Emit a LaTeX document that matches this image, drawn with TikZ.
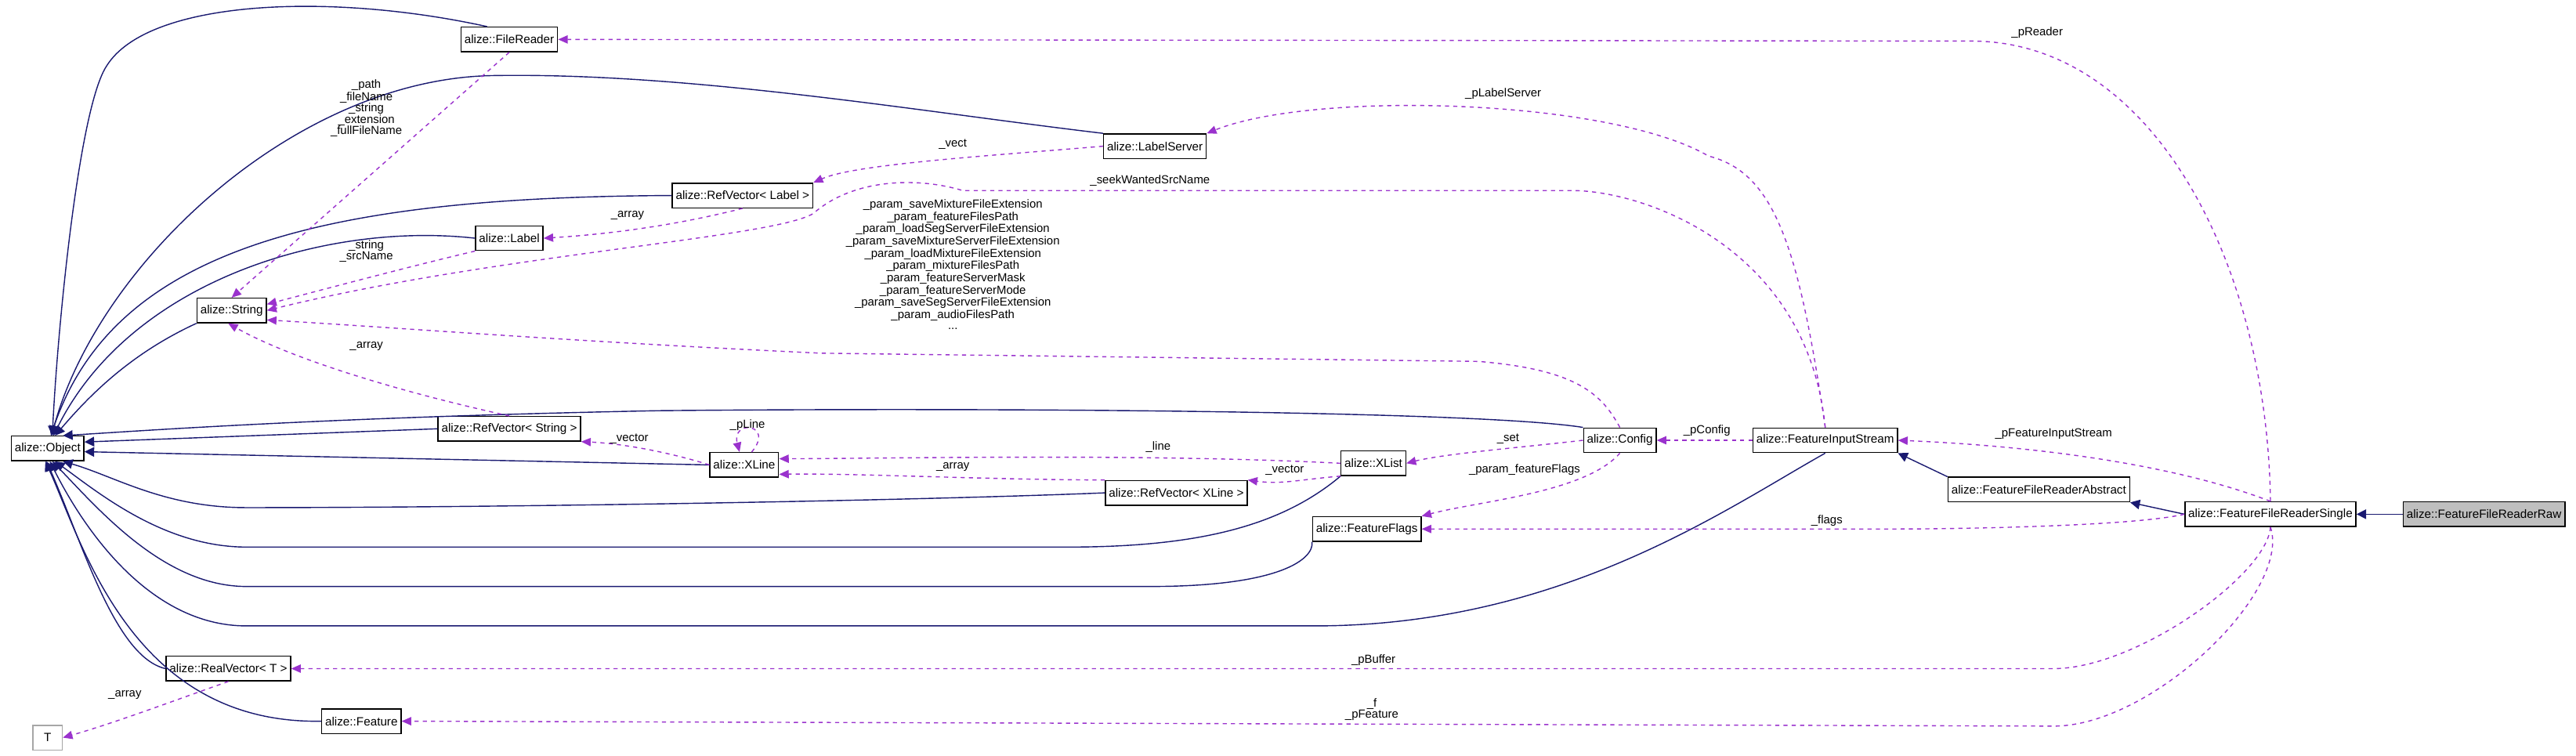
\documentclass[tikz,border=0pt]{standalone}
\usepackage{fontspec}
\setmainfont{Liberation Sans}
\usetikzlibrary{arrows.meta}
\definecolor{edgeblue}{HTML}{191970}
\definecolor{edgepurple}{HTML}{9A32CD}
\tikzset{
  cls/.style={draw=black, thick, fill=white, inner sep=2.5pt, minimum height=0.63cm, font=\fontsize{8.7}{9.8}\selectfont},
  inherit/.style={-{Triangle[length=7pt,width=7pt]}, edgeblue, thick},
  uses/.style={-{Triangle[length=7pt,width=6pt]}, edgepurple, thick, dashed},
  lbl/.style={font=\fontsize{8.5}{7.9}\selectfont, align=center, inner sep=0pt}
}
\begin{document}
\begin{tikzpicture}[x=0.042cm, y=-0.042cm]
				\useasboundingbox (0,0) rectangle (1568,460);

				% classes
				\node[cls] (obj) at (29,273) {alize::Object};
				\node[cls] (frd) at (310,24) {alize::FileReader};
				\node[cls] (lsv) at (703,89) {alize::LabelServer};
				\node[cls] (rvl) at (452,119) {alize::RefVector\textless{} Label \textgreater};
				\node[cls] (lab) at (310,145) {alize::Label};
				\node[cls] (str) at (141,189) {alize::String};
				\node[cls] (rvs) at (310,261) {alize::RefVector\textless{} String \textgreater};
				\node[cls] (xln) at (453,283) {alize::XLine};
				\node[cls] (xls) at (836,282) {alize::XList};
				\node[cls] (rvx) at (716,300) {alize::RefVector\textless{} XLine \textgreater};
				\node[cls] (cfg) at (986,268) {alize::Config};
				\node[cls] (fis) at (1111,268) {alize::FeatureInputStream};
				\node[cls] (ffl) at (832,322) {alize::FeatureFlags};
				\node[cls] (fra) at (1241,298) {alize::FeatureFileReaderAbstract};
				\node[cls] (frs) at (1382,313) {alize::FeatureFileReaderSingle};
				\node[cls, fill=black!25] (frr) at (1512,313) {alize::FeatureFileReaderRaw};
				\node[cls] (rvt) at (139,407) {alize::RealVector\textless{} T \textgreater};
				\node[cls] (fea) at (220,439) {alize::Feature};
				\node[cls, draw=black!35, minimum width=0.75cm] (tpl) at (29,449) {T};

				% inheritance
				\draw[inherit] (frd.150) .. controls (200,-5) and (90,0) .. (65,40) .. controls (48,65) and (35,200) .. (obj.70);
				\draw[inherit] (lsv.north west) .. controls (560,68) and (420,44) .. (300,46) .. controls (180,48) and (60,160) .. (obj.73);
				\draw[inherit] (rvl.west) .. controls (200,120) and (70,150) .. (obj.76);
				\draw[inherit] (lab.west) .. controls (200,135) and (80,170) .. (obj.66);
				\draw[inherit] (str.south west) .. controls (80,215) and (55,240) .. (obj.60);
				\draw[inherit] (cfg.north west) .. controls (900,250) and (600,248) .. (400,250) .. controls (200,254) and (90,262) .. (obj.40);
				\draw[inherit] (rvs.west) -- (obj.10);
				\draw[inherit] (xln.west) -- (obj.-5);
				\draw[inherit] (rvx.west) .. controls (550,305) and (300,309) .. (150,309) .. controls (100,309) and (70,290) .. (obj.-40);
				\draw[inherit] (xls.south west) .. controls (780,320) and (730,333) .. (650,333) -- (150,333) .. controls (100,333) and (60,300) .. (obj.-60);
				\draw[inherit] (ffl.south west) .. controls (800,340) and (780,357) .. (700,357) -- (150,357) .. controls (100,357) and (60,310) .. (obj.-70);
				\draw[inherit] (fis.south) .. controls (1050,310) and (950,381) .. (800,381) -- (150,381) .. controls (90,381) and (50,320) .. (obj.-80);
				\draw[inherit] (rvt.west) .. controls (70,400) and (50,330) .. (obj.-95);
				\draw[inherit] (fea.west) .. controls (80,441) and (50,330) .. (obj.-100);
				\draw[inherit] (fra.north west) -- (fis.south east);
				\draw[inherit] (frs.west) -- (fra.south east);
				\draw[inherit] (frr.west) -- (frs.east);

				% usage
				\draw[uses] (frs.north) .. controls (1380,160) and (1310,25) .. (1200,25) -- (frd.east);
				\node[lbl] (lPReader) at (1240,20) {\_pReader};
				\draw[uses] (fis.north) .. controls (1095,150) and (1080,105) .. (1040,95) .. controls (980,60) and (800,55) .. (lsv.north east);
				\node[lbl] (lPLabelServer) at (915,57) {\_pLabelServer};
				\draw[uses] (lsv.west) .. controls (600,95) and (520,100) .. (rvl.north east);
				\node[lbl] (lVect) at (580,88) {\_vect};
				\draw[uses] (rvl.south) .. controls (420,135) and (380,142) .. (lab.east);
				\node[lbl] (lArrayLab) at (382,131) {\_array};
				\draw[uses] (frd.south) -- (str.north);
				\node[lbl] (lPath) at (223,66) {\_path\\\_fileName\\\_string\\\_extension\\\_fullFileName};
				\draw[uses] (lab.south west) .. controls (250,162) and (190,178) .. (str.10);
				\node[lbl] (lString) at (223,153) {\_string\\\_srcName};
				\draw[uses] (fis.north) .. controls (1100,150) and (1000,116) .. (957,116) -- (586,116) .. controls (560,108) and (520,108) .. (495,130) .. controls (470,145) and (300,155) .. (str.east);
				\node[lbl] (lSeek) at (700,110) {\_seekWantedSrcName};
				\draw[uses] (cfg.north) .. controls (975,240) and (960,225) .. (900,220) -- (500,215) .. controls (350,208) and (250,200) .. (str.-15);
				\node[lbl] (lParams) at (580,161) {\_param\_saveMixtureFileExtension\\\_param\_featureFilesPath\\\_param\_loadSegServerFileExtension\\\_param\_saveMixtureServerFileExtension\\\_param\_loadMixtureFileExtension\\\_param\_mixtureFilesPath\\\_param\_featureServerMask\\\_param\_featureServerMode\\\_param\_saveSegServerFileExtension\\\_param\_audioFilesPath\\...};
				\draw[uses] (rvs.north) .. controls (250,240) and (180,220) .. (str.-105);
				\node[lbl] (lArrayStr) at (223,211) {\_array};
				\draw[uses] (xln.west) .. controls (410,276) and (380,270) .. (rvs.south east);
				\node[lbl] (lVector) at (383,267) {\_vector};
				\draw[uses] (xln.60) .. controls (472,258) and (445,255) .. (xln.110);
				\node[lbl] (lPLine) at (455,259) {\_pLine};
				\draw[uses] (xls.west) .. controls (700,276) and (550,279) .. (xln.10);
				\node[lbl] (lLine) at (705,272) {\_line};
				\draw[uses] (rvx.north west) .. controls (600,292) and (520,288) .. (xln.-15);
				\node[lbl] (lArrayXL) at (580,284) {\_array};
				\draw[uses] (xls.south west) .. controls (790,292) and (780,295) .. (rvx.north east);
				\node[lbl] (lVectorXL) at (782,286) {\_vector};
				\draw[uses] (cfg.west) .. controls (930,272) and (880,276) .. (xls.east);
				\node[lbl] (lSet) at (918,267) {\_set};
				\draw[uses] (cfg.south) .. controls (965,300) and (900,305) .. (ffl.north east);
				\node[lbl] (lFlagsCfg) at (928,286) {\_param\_featureFlags};
				\draw[uses] (fis.west) -- (cfg.east);
				\node[lbl] (lPConfig) at (1039,262) {\_pConfig};
				\draw[uses] (frs.north) .. controls (1330,285) and (1250,272) .. (fis.east);
				\node[lbl] (lPFis) at (1250,264) {\_pFeatureInputStream};
				\draw[uses] (frs.west) .. controls (1300,320) and (1200,322) .. (1150,322) -- (ffl.east);
				\node[lbl] (lFlags) at (1112,317) {\_flags};
				\draw[uses] (frs.south) .. controls (1380,350) and (1300,407) .. (1250,407) -- (rvt.east);
				\node[lbl] (lPBuffer) at (836,402) {\_pBuffer};
				\draw[uses] (frs.south) .. controls (1395,360) and (1310,442) .. (1250,442) -- (fea.east);
				\node[lbl] (lPFeature) at (835,432) {\_f\\\_pFeature};
				\draw[uses] (rvt.south) .. controls (110,425) and (70,440) .. (tpl.east);
				\node[lbl] (lArrayT) at (76,423) {\_array};

			\end{tikzpicture}
\end{document}
